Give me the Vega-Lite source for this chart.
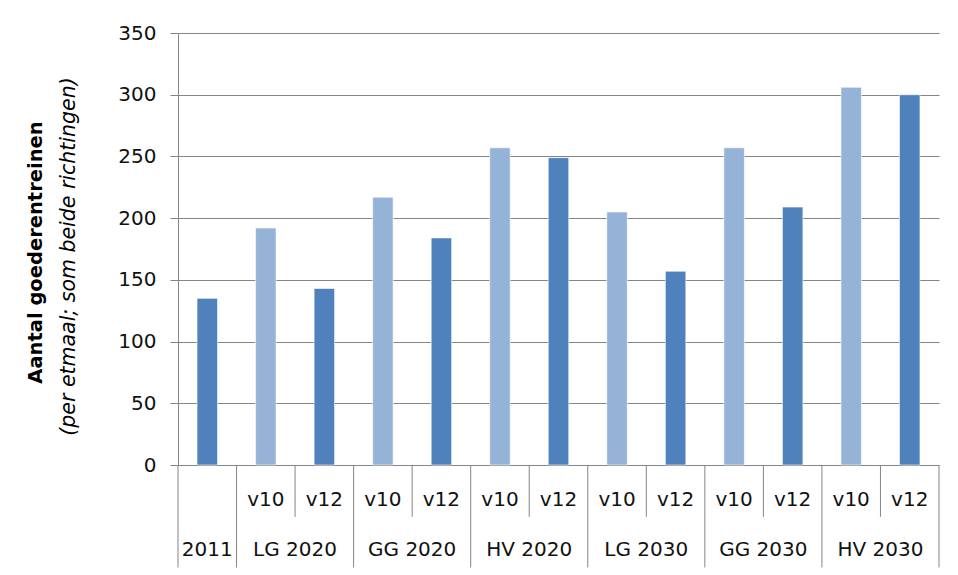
{
  "$schema": "https://vega.github.io/schema/vega-lite/v6.json",
  "autosize": "none",
  "width": 761,
  "height": 432,
  "padding": {"left": 178, "top": 33, "right": 19, "bottom": 110},
  "background": "white",
  "config": {"view": {"stroke": null}, "font": "DejaVu Sans"},
  "data": {
    "values": [
      {"id": "2011", "group": "2011", "sub": "", "value": 135},
      {"id": "LG 2020 v10", "group": "LG 2020", "sub": "v10", "value": 192},
      {"id": "LG 2020 v12", "group": "LG 2020", "sub": "v12", "value": 143},
      {"id": "GG 2020 v10", "group": "GG 2020", "sub": "v10", "value": 217},
      {"id": "GG 2020 v12", "group": "GG 2020", "sub": "v12", "value": 184},
      {"id": "HV 2020 v10", "group": "HV 2020", "sub": "v10", "value": 257},
      {"id": "HV 2020 v12", "group": "HV 2020", "sub": "v12", "value": 249},
      {"id": "LG 2030 v10", "group": "LG 2030", "sub": "v10", "value": 205},
      {"id": "LG 2030 v12", "group": "LG 2030", "sub": "v12", "value": 157},
      {"id": "GG 2030 v10", "group": "GG 2030", "sub": "v10", "value": 257},
      {"id": "GG 2030 v12", "group": "GG 2030", "sub": "v12", "value": 209},
      {"id": "HV 2030 v10", "group": "HV 2030", "sub": "v10", "value": 306},
      {"id": "HV 2030 v12", "group": "HV 2030", "sub": "v12", "value": 300}
    ]
  },
  "resolve": {"axis": {"y": "independent"}},
  "layer": [
    {
      "mark": {"type": "bar", "width": {"band": 0.35}, "stroke": "#ffffff", "strokeOpacity": 0.6, "strokeWidth": 1},
      "encoding": {
        "x": {
          "field": "id", "type": "nominal", "sort": null, "axis": null,
          "scale": {
            "domain": ["2011", "LG 2020 v10", "LG 2020 v12", "GG 2020 v10", "GG 2020 v12", "HV 2020 v10", "HV 2020 v12", "LG 2030 v10", "LG 2030 v12", "GG 2030 v10", "GG 2030 v12", "HV 2030 v10", "HV 2030 v12"],
            "paddingInner": 0, "paddingOuter": 0
          }
        },
        "y": {
          "field": "value", "type": "quantitative",
          "scale": {"domain": [0, 350], "nice": false},
          "axis": {
            "orient": "left",
            "title": "Aantal goederentreinen",
            "values": [0, 50, 100, 150, 200, 250, 300, 350],
            "grid": true, "gridColor": "#858585", "gridWidth": 1,
            "domainColor": "#858585", "tickColor": "#858585", "tickSize": 8,
            "labelPadding": 14, "labelFontSize": 20, "labelColor": "#111111", "labelFont": "DejaVu Sans",
            "titleFont": "DejaVu Sans", "titleFontSize": 19.5, "titleFontWeight": "bold", "titleColor": "#000000",
            "titleAngle": -90, "titleBaseline": "middle", "titleAlign": "center", "titleX": -143, "titleY": 219
          }
        },
        "color": {"condition": {"test": "datum.sub === 'v10'", "value": "#95B3D7"}, "value": "#4F81BD"}
      }
    },
    {
      "transform": [{"filter": "datum.sub !== ''"}],
      "mark": {"type": "text", "fontSize": 20, "color": "#111111", "baseline": "middle", "align": "center"},
      "encoding": {
        "x": {"field": "id", "type": "nominal", "sort": null},
        "y": {
          "datum": -28, "type": "quantitative",
          "axis": {
            "orient": "left",
            "title": "(per etmaal; som beide richtingen)",
            "labels": false, "ticks": false, "domain": false, "grid": false,
            "titleFont": "DejaVu Sans", "titleFontSize": 20.5, "titleFontStyle": "italic", "titleFontWeight": "normal", "titleColor": "#000000",
            "titleAngle": -90, "titleBaseline": "middle", "titleAlign": "center", "titleX": -110, "titleY": 223
          }
        },
        "text": {"field": "sub"}
      }
    },
    {
      "transform": [{"filter": "datum.sub === 'v10'"}],
      "mark": {"type": "text", "fontSize": 20, "color": "#111111", "baseline": "middle", "align": "center"},
      "encoding": {
        "x": {"field": "id", "type": "nominal", "sort": null, "bandPosition": 1},
        "y": {"datum": -69, "type": "quantitative", "axis": null},
        "text": {"field": "group"}
      }
    },
    {
      "transform": [{"filter": "datum.sub === ''"}],
      "mark": {"type": "text", "fontSize": 20, "color": "#111111", "baseline": "middle", "align": "center"},
      "encoding": {
        "x": {"field": "id", "type": "nominal", "sort": null, "bandPosition": 0.5},
        "y": {"datum": -69, "type": "quantitative", "axis": null},
        "text": {"field": "group"}
      }
    },
    {
      "transform": [{"filter": "datum.sub === 'v10'"}],
      "mark": {"type": "rule", "color": "#858585", "strokeWidth": 1},
      "encoding": {
        "x": {"field": "id", "type": "nominal", "sort": null, "bandPosition": 1},
        "y": {"datum": 0, "type": "quantitative", "axis": null},
        "y2": {"datum": -42}
      }
    },
    {
      "transform": [{"filter": "datum.sub !== 'v10'"}],
      "mark": {"type": "rule", "color": "#858585", "strokeWidth": 1},
      "encoding": {
        "x": {"field": "id", "type": "nominal", "sort": null, "bandPosition": 1},
        "y": {"datum": 0, "type": "quantitative", "axis": null},
        "y2": {"datum": -83}
      }
    },
    {
      "transform": [{"filter": "datum.sub === ''"}],
      "mark": {"type": "rule", "color": "#858585", "strokeWidth": 1},
      "encoding": {
        "x": {"field": "id", "type": "nominal", "sort": null, "bandPosition": 0},
        "y": {"datum": 0, "type": "quantitative", "axis": null},
        "y2": {"datum": -83}
      }
    }
  ]
}
